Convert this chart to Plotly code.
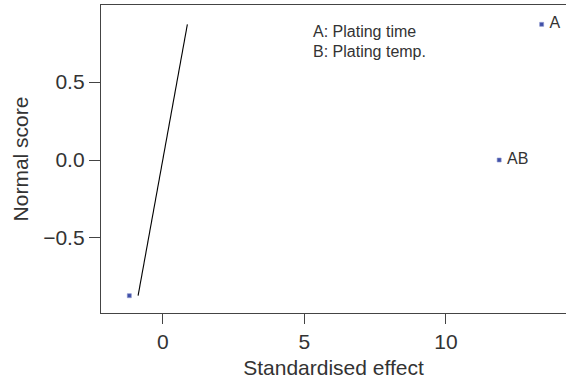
import plotly.graph_objects as go

# Standardised effects of the factors and their normal scores
effect_names = ["B", "AB", "A"]
effect_labels = ["", "AB", "A"]
standardised_effect = [-1.18, 11.88, 13.38]
normal_score = [-0.87, 0.0, 0.87]

# Reference line through the normal scores (zero-mean, unit-variance)
ref_x = [-0.87, 0.87]
ref_y = [-0.87, 0.87]

factor_key = ["A: Plating time", "B: Plating temp."]

x_ticks = [0, 5, 10]
y_ticks = [-0.5, 0.0, 0.5]

font_family = "Liberation Sans, Arial, sans-serif"
axis_color = "#444444"
text_color = "#333333"

fig = go.Figure()

fig.add_trace(go.Scatter(
    x=ref_x, y=ref_y, mode="lines",
    line=dict(color="black", width=1.1),
    hoverinfo="skip", showlegend=False,
))

fig.add_trace(go.Scatter(
    x=standardised_effect, y=normal_score,
    mode="markers+text",
    text=["\u00a0" + t if t else "" for t in effect_labels],
    customdata=effect_names,
    textposition="middle right",
    textfont=dict(family=font_family, size=16, color=text_color),
    marker=dict(symbol="square", size=4, color="#4050a8",
                line=dict(width=0.6, color="#8a94cc")),
    showlegend=False,
))

for i, label in enumerate(factor_key):
    fig.add_annotation(
        x=5.25, y=0.827 - i * 0.133, xref="x", yref="y",
        text=label, showarrow=False, xanchor="left", yanchor="middle",
        font=dict(family=font_family, size=16, color=text_color),
    )

fig.update_layout(
    width=566, height=385,
    margin=dict(l=101, r=0, t=5, b=72),
    paper_bgcolor="white", plot_bgcolor="white",
    font=dict(family=font_family, color=text_color),
)

fig.update_xaxes(
    range=[-2.18, 14.24],
    tickvals=x_ticks, ticktext=[str(v) for v in x_ticks],
    ticks="outside", ticklen=10, tickwidth=1.2, tickcolor=axis_color,
    tickfont=dict(size=21, color=text_color),
    showline=True, linecolor=axis_color, linewidth=1.3, mirror=True,
    showgrid=False, zeroline=False,
    title=dict(text="Standardised effect", font=dict(size=21, color=text_color), standoff=7),
)

fig.update_yaxes(
    range=[-0.981, 0.994],
    tickvals=y_ticks, ticktext=["\u22120.5", "0.0", "0.5"],
    ticks="outside", ticklen=11, tickwidth=1.2, tickcolor=axis_color,
    tickfont=dict(size=21, color=text_color),
    showline=True, linecolor=axis_color, linewidth=1.3, mirror=False,
    showgrid=False, zeroline=False,
    title=dict(text="Normal score", font=dict(size=21, color=text_color), standoff=8),
)

fig.write_html("out.html")
